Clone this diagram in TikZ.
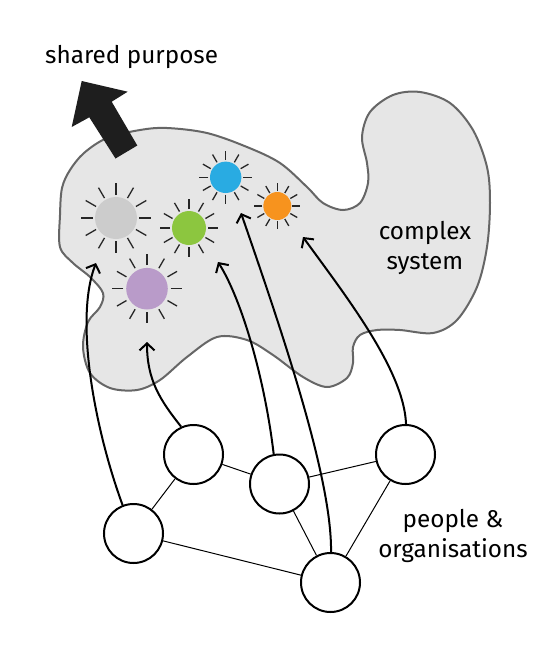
\documentclass[tikz,border=0pt]{standalone}
\usepackage{fontspec}
\setmainfont{Fira Sans}
\usetikzlibrary{arrows.meta}
\definecolor{blobfill}{HTML}{E6E6E6}
\definecolor{blobline}{HTML}{666666}
\definecolor{sgrey}{HTML}{CCCCCC}
\definecolor{sgreen}{HTML}{8CC63F}
\definecolor{sblue}{HTML}{29ABE2}
\definecolor{sorange}{HTML}{F7931E}
\definecolor{spurple}{HTML}{B99BC9}
\definecolor{bigarrow}{HTML}{1E1E1E}
\newcommand{\drawsun}[7]{%
  \node[sun, fill=#7, minimum size=#4*2pt] (#1) at (#2,#3) {};
  \begin{scope}[shift={(#2,#3)}]
    \foreach \a in {0,30,...,330} \draw[ray] (\a:#5) -- (\a:#6);
  \end{scope}}
\begin{document}
\begin{tikzpicture}[x=1pt,y=-1pt,
  person/.style={circle,draw,line width=2pt,fill=white,minimum size=59pt,inner sep=0},
  link/.style={line width=1pt},
  influence/.style={line width=2pt,-{Straight Barb[length=7pt,width=15pt]}},
  sun/.style={circle,inner sep=0,draw=none},
  ray/.style={line width=1.3pt,color=black!85},
  lbl/.style={font=\fontsize{24.3}{29.5}\selectfont,align=center,inner sep=0}]
\useasboundingbox (0,0) rectangle (558,657);

% complex system blob
\draw[blobline, fill=blobfill, line width=2pt] plot[smooth cycle, tension=0.55] coordinates {
 (60,215) (62,188) (70,170) (84,153) (107,138) (140,130) (167,128) (207,133)
 (247,147) (280,163) (307,187) (323,203) (343,210) (360,203) (368,183) (367,163)
 (362,137) (370,112) (393,95) (420,92) (450,103) (473,130) (487,167) (490,203)
 (487,247) (477,287) (457,320) (433,333) (400,330) (377,330) (360,335) (353,347)
 (353,363) (347,378) (327,387) (303,377) (273,355) (247,340) (217,337) (187,357)
 (160,380) (137,390) (110,388) (90,373) (83,347) (88,322) (100,307) (103,293)
 (90,277) (73,263) (60,247)};

% shared purpose arrow
\fill[bigarrow] (81.7,81) -- (127.7,91.7) -- (111.7,101.7) -- (137.3,145.5)
  -- (115.5,158.5) -- (89.3,117.3) -- (71.7,127) -- cycle;

% suns
\drawsun{sgreyd}{116}{218}{21}{23}{35}{sgrey}
\drawsun{sgreend}{189}{228}{17}{19}{29}{sgreen}
\drawsun{sblued}{225.7}{177.3}{15.7}{17.3}{26.3}{sblue}
\drawsun{sorangedot}{277.3}{206}{14}{15}{23}{sorange}
\drawsun{spurpled}{147}{288.7}{20.8}{23.7}{34.7}{spurple}

% people & organisations
\node[person] (p1) at (133.5,533.5) {};
\node[person] (p2) at (193.5,454.5) {};
\node[person] (p3) at (279.5,484) {};
\node[person] (p4) at (405.5,454.5) {};
\node[person] (p5) at (330.5,582.5) {};

\draw[link] (p1) -- (p2);
\draw[link] (p2) -- (p3);
\draw[link] (p3) -- (p4);
\draw[link] (p3) -- (p5);
\draw[link] (p1) -- (p5);
\draw[link] (p4) -- (p5);

% influence arrows
\coordinate (t1) at (96,263);
\coordinate (t2) at (147,342);
\coordinate (t3) at (218,262);
\coordinate (t4) at (241,213);
\coordinate (t5) at (303,237);
\draw[influence] (p1.111) .. controls (95,430) and (74,320) .. (t1);
\draw[influence] (p2.114) .. controls (160,400) and (147,380) .. (t2);
\draw[influence] (p3.101) .. controls (265,380) and (242,300) .. (t3);
\draw[influence] (p5.89) .. controls (332,480) and (285,340) .. (t4);
\draw[influence] (p4.89) .. controls (404,370) and (345,295) .. (t5);

% labels
\node[lbl, anchor=base west] (sp) at (45,63) {shared purpose};
\node[lbl] (cs) at (425,248) {complex\\system};
\node[lbl] (po) at (453,536) {people \&\\organisations};
\end{tikzpicture}
\end{document}
